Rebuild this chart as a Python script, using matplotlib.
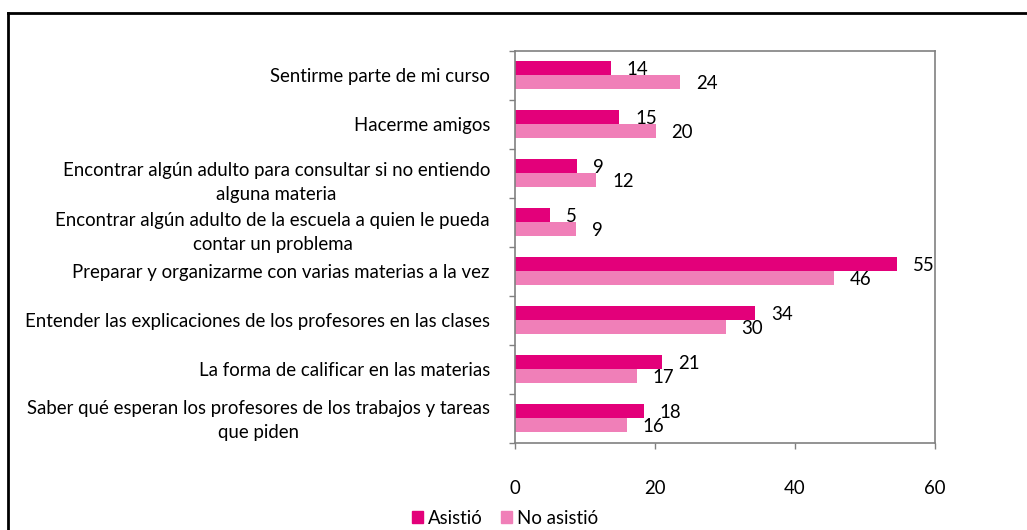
import matplotlib
matplotlib.use("Agg")
import matplotlib.pyplot as plt
from matplotlib.lines import Line2D
from matplotlib.patches import Patch
from matplotlib.transforms import ScaledTranslation
import numpy as np

plt.rcParams['font.family'] = ['Lato', 'DejaVu Sans']

categories = [
    "Sentirme parte de mi curso",
    "Hacerme amigos",
    "Encontrar algún adulto para consultar si no entiendo\nalguna materia",
    "Encontrar algún adulto de la escuela a quien le pueda\ncontar un problema",
    "Preparar y organizarme con varias materias a la vez",
    "Entender las explicaciones de los profesores en las clases",
    "La forma de calificar en las materias",
    "Saber qué esperan los profesores de los trabajos y tareas\nque piden",
]
asistio = [13.7, 14.9, 8.9, 5.0, 54.6, 34.3, 21.0, 18.4]
no_asistio = [23.6, 20.1, 11.6, 8.8, 45.6, 30.1, 17.4, 16.0]
series_names = ["Asistió", "No asistió"]
colors = ["#E3007A", "#F07FB8"]
xticks = [0, 20, 40, 60]

FS = 13.4
W, H = 1027, 530
fig = plt.figure(figsize=(W / 100, H / 100), dpi=100)
ax = fig.add_axes([514.7 / W, 1 - 442.7 / H, (935 - 514.7) / W, (442.7 - 51) / H])

y = np.arange(len(categories))
h = 0.286
b1 = ax.barh(y - h / 2, asistio, height=h, color=colors[0], label=series_names[0])
b2 = ax.barh(y + h / 2, no_asistio, height=h, color=colors[1], label=series_names[1])

for bars, vals in ((b1, asistio), (b2, no_asistio)):
    for bar, v in zip(bars, vals):
        ax.annotate(f"{v:.0f}", xy=(bar.get_width(), bar.get_y() + bar.get_height() / 2),
                    xytext=(11.5, -1), textcoords="offset points",
                    ha="left", va="center", fontsize=FS, color="#000000")

ax.set_xlim(0, 60)
ax.set_ylim(len(categories) - 0.5, -0.5)
ax.set_xticks(xticks)
ax.set_xticklabels([str(t) for t in xticks], fontsize=FS)
ax.set_yticks(y)
ax.set_yticklabels(categories, fontsize=FS)
ax.set_yticks(np.arange(-0.5, len(categories) + 0.5, 1), minor=True)
ax.tick_params(axis="y", which="major", length=0, pad=17.8)
ax.tick_params(axis="y", which="minor", length=4, width=1, color="#808080", direction="out")
ax.tick_params(axis="x", which="major", length=4, width=1, color="#808080", direction="out", pad=23)
for s in ax.spines.values():
    s.set_color("#808080")
    s.set_linewidth(1.2)

# two-line labels: centred lines, Excel-like spacing; small vertical nudges (px, + = down)
shift_down = {2: 4, 3: 5, 7: -3}
for i, lbl in enumerate(ax.get_yticklabels()):
    lbl.set_multialignment("center")
    lbl.set_linespacing(1.5)
    if i in shift_down:
        lbl.set_transform(lbl.get_transform() +
                          ScaledTranslation(0, -shift_down[i] / 100, fig.dpi_scale_trans))

fig.legend(handles=[Patch(color=colors[0]), Patch(color=colors[1])], labels=series_names,
           loc="center left", bbox_to_anchor=(412 / W, 12 / H), ncol=2, frameon=False,
           fontsize=FS, handlelength=0.6, handleheight=0.6, handletextpad=0.25,
           columnspacing=1.0, borderaxespad=0, borderpad=0)

# outer chart border (left and top visible)
fig.add_artist(Line2D([8 / W, 8 / W], [0, 1 - 13 / H], color="black", lw=2, transform=fig.transFigure))
fig.add_artist(Line2D([8 / W, 1], [1 - 13 / H, 1 - 13 / H], color="black", lw=2, transform=fig.transFigure))

fig.savefig("out.png", dpi=100)
